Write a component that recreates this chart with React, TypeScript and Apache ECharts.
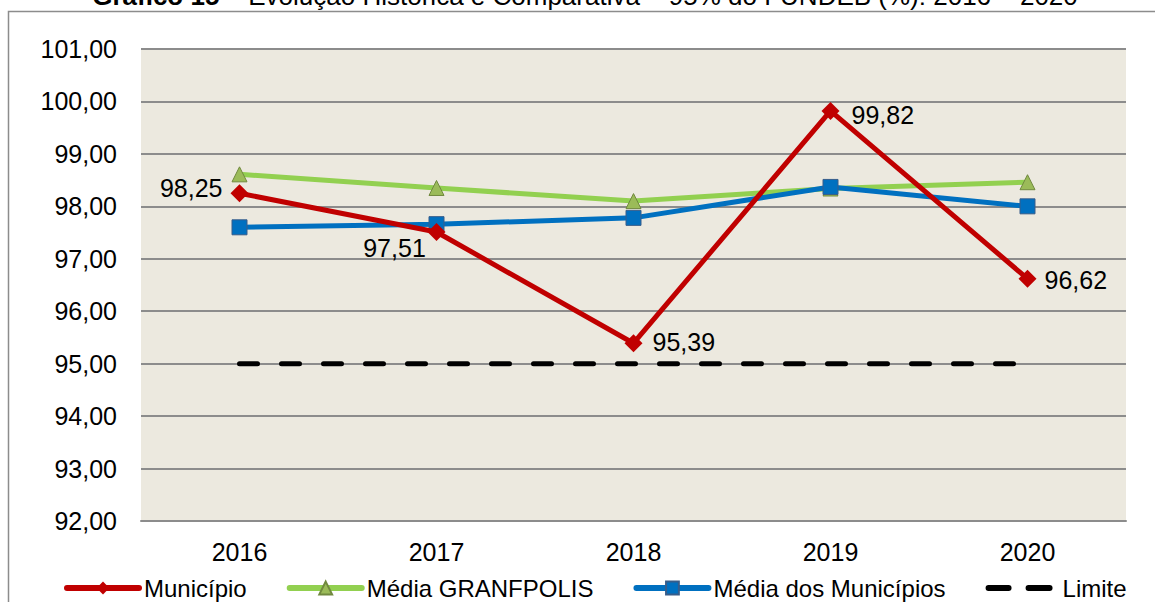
import React, { useEffect, useRef } from "react";
import * as echarts from "echarts";

const categories = ["2016", "2017", "2018", "2019", "2020"];
const municipio = [98.25, 97.51, 95.39, 99.82, 96.62];
const granfpolis = [98.61, 98.35, 98.1, 98.34, 98.46];
const mediaMunicipios = [97.6, 97.66, 97.78, 98.37, 98.0];
const limite = [95, 95, 95, 95, 95];
const yTicks = { min: 92, max: 101, interval: 1 };

const FONT = "'Liberation Sans', Arial, Helvetica, sans-serif";
const fmt = (v: number) => v.toFixed(2).replace(".", ",");

const DASH_ICON =
  "path://M0,0h0.01v0.01h-0.01z M72,16h-0.01v-0.01h0.01z " +
  "M3,5H23A3,3 0 0 1 23,11H3A3,3 0 0 1 3,5Z " +
  "M43,5H64A3,3 0 0 1 64,11H43A3,3 0 0 1 43,5Z";

export default function App() {
  const ref = useRef<HTMLDivElement>(null);
  useEffect(() => {
    if (!ref.current) return;
    const chart = echarts.init(ref.current, undefined, { renderer: "svg" });
    const labelPos: any[] = [
      { position: "left", distance: 8, offset: [0, -5] },
      { position: "bottom", distance: 5, offset: [-42, -11] },
      { position: "right", distance: 10, offset: [0, -1] },
      { position: "right", distance: 12, offset: [0, 4] },
      { position: "right", distance: 8, offset: [0, 1] },
    ];
    chart.setOption({
      animation: false,
      textStyle: { fontFamily: FONT },
      graphic: [
        {
          type: "rect",
          silent: true,
          shape: { x: 8.5, y: 11.5, width: 1300, height: 800 },
          style: { fill: "none", stroke: "#8C8C8C", lineWidth: 1.5 },
          z: -10,
        },
        {
          type: "text",
          x: 585,
          y: 9,
          style: {
            text: "{b|Gráfico 15} – Evolução Histórica e Comparativa – 95% do FUNDEB (%): 2016 – 2020",
            align: "center",
            verticalAlign: "bottom",
            fontSize: 26,
            fontFamily: FONT,
            fill: "#000",
            rich: {
              b: { fontWeight: "bold", fontSize: 26, fontFamily: FONT, fill: "#000" },
            },
          },
        },
      ],
      grid: {
        left: 141,
        right: 29,
        top: 49,
        bottom: 81,
        show: true,
        backgroundColor: "#ECE9DF",
        borderWidth: 0,
      },
      legend: {
        left: 64,
        top: 576,
        padding: 0,
        itemWidth: 72,
        itemHeight: 16,
        itemGap: 40,
        lineStyle: { width: 6, cap: "round" },
        textStyle: { fontSize: 24, color: "#000", fontFamily: FONT },
        data: [
          "Município",
          "Média GRANFPOLIS",
          "Média dos Municípios",
          { name: "Limite", icon: DASH_ICON, itemStyle: { color: "#000" } },
        ],
      },
      xAxis: {
        type: "category",
        data: categories,
        boundaryGap: true,
        axisLine: { show: true, lineStyle: { color: "#8C8C8C", width: 2 } },
        axisTick: { show: false },
        axisLabel: { fontSize: 25, color: "#000", margin: 18, fontFamily: FONT },
      },
      yAxis: {
        type: "value",
        min: yTicks.min,
        max: yTicks.max,
        interval: yTicks.interval,
        axisLine: { show: false },
        axisTick: { show: false },
        splitLine: { lineStyle: { color: "#8C8C8C", width: 2 } },
        axisLabel: {
          fontSize: 25,
          color: "#000",
          margin: 24,
          fontFamily: FONT,
          formatter: (v: number) => fmt(v),
        },
      },
      series: [
        {
          name: "Limite",
          type: "line",
          data: limite,
          symbol: "none",
          z: 1,
          lineStyle: { color: "#000", width: 5, type: [18, 24], cap: "round" },
          itemStyle: { color: "#000" },
        },
        {
          name: "Média GRANFPOLIS",
          type: "line",
          data: granfpolis,
          symbol: "triangle",
          symbolSize: 15,
          z: 2,
          lineStyle: { color: "#92D050", width: 5 },
          itemStyle: { color: "#9BBB59", borderColor: "#71893F", borderWidth: 1 },
        },
        {
          name: "Média dos Municípios",
          type: "line",
          data: mediaMunicipios,
          symbol: "rect",
          symbolSize: 15,
          z: 3,
          lineStyle: { color: "#0070C0", width: 5 },
          itemStyle: { color: "#0070C0", borderColor: "#385D8A", borderWidth: 1 },
        },
        {
          name: "Município",
          type: "line",
          data: municipio.map((v, i) => ({
            value: v,
            label: {
              show: true,
              position: labelPos[i].position,
              distance: labelPos[i].distance,
              offset: labelPos[i].offset,
            },
          })),
          symbol: "diamond",
          symbolSize: 18,
          z: 4,
          lineStyle: { color: "#C00000", width: 5 },
          itemStyle: { color: "#C00000" },
          label: {
            show: true,
            fontSize: 25,
            color: "#000",
            fontFamily: FONT,
            formatter: (p: any) => fmt(p.value),
          },
        },
      ],
    });
    return () => chart.dispose();
  }, []);
  return (
    <div
      ref={ref}
      style={{ position: "absolute", left: 0, top: 0, width: 1155, height: 602, background: "#fff" }}
    />
  );
}
